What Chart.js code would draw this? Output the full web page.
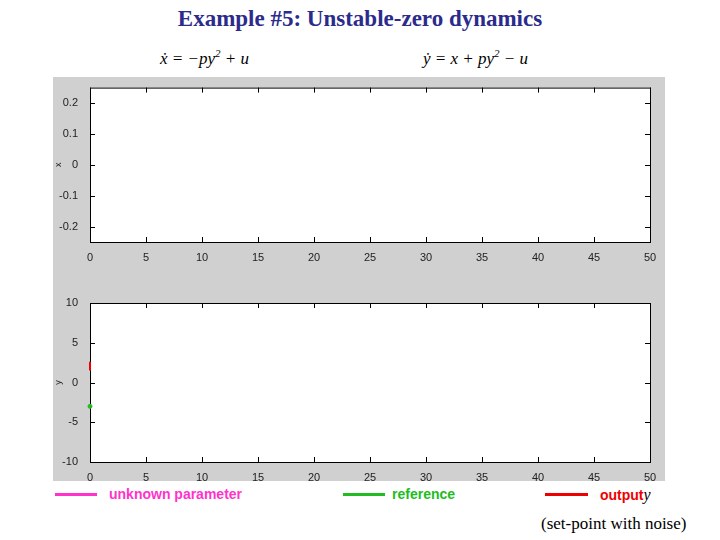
<!DOCTYPE html>
<html><head><meta charset="utf-8">
<script src="https://cdn.jsdelivr.net/npm/chart.js@4"></script>
<style>
body{margin:0;width:720px;height:540px;background:#fff;position:relative;overflow:hidden;font-family:"Liberation Sans",Arial,sans-serif}
.abs{position:absolute;white-space:nowrap}
#gray{left:53px;top:77px;width:612px;height:404px;background:#d0d0d0}
.eq{font-family:"Liberation Serif","DejaVu Serif",serif;font-style:italic;font-size:17px}
.ln{height:3px}
.lg{font-weight:bold;font-size:14px;top:486px}
</style></head><body>
<div class="abs" style="left:0;width:720px;top:6px;text-align:center;font-family:'Liberation Serif',serif;font-weight:bold;font-size:23px;color:#2b2b8c">Example #5: Unstable-zero dynamics</div>
<div class="abs eq" style="left:160px;top:47px">x&#775; = −py<sup style="font-size:11px">2</sup> + u</div>
<div class="abs eq" style="left:423px;top:47px">y&#775; = x + py<sup style="font-size:11px">2</sup> − u</div>
<div id="gray" class="abs"></div>
<div class="abs" style="left:53px;top:77px;width:612px;height:195px"><canvas id="c1"></canvas></div>
<div class="abs" style="left:53px;top:285px;width:612px;height:196px"><canvas id="c2"></canvas></div>
<div class="abs ln" style="left:55px;top:493px;width:42px;background:#ff33cc"></div>
<div class="abs lg" style="left:109px;color:#ff33cc">unknown parameter</div>
<div class="abs ln" style="left:343px;top:493px;width:42px;background:#22bb22"></div>
<div class="abs lg" style="left:392px;color:#22bb22">reference</div>
<div class="abs ln" style="left:545px;top:493px;width:43px;background:#ee0000"></div>
<div class="abs lg" style="left:600px;color:#ee0000">output<span style="color:#000;font-family:'Liberation Serif',serif;font-style:italic;font-weight:normal;font-size:16px">y</span></div>
<div class="abs" style="left:541px;top:514px;font-family:'Liberation Serif',serif;font-size:17px">(set-point with noise)</div>
<script>
const xTicks=[0,5,10,15,20,25,30,35,40,45,50];
const yTicksTop=[-0.2,-0.1,0,0.1,0.2];
const yTicksBot=[-10,-5,0,5,10];
const paramSeries=[];
const referenceSeries=[{x:0,y:-3}];
const outputSeries=[{x:0,y:1.5},{x:0,y:2.6}];

const frame={id:'frame',beforeDraw(c){const a=c.chartArea,g=c.ctx;g.save();g.fillStyle='#fff';g.fillRect(a.left,a.top,a.right-a.left,a.bottom-a.top);g.restore();},
beforeDatasetsDraw(c){const a=c.chartArea,g=c.ctx;g.save();g.strokeStyle='#000';g.lineWidth=1;g.strokeRect(a.left+.5,a.top+.5,a.right-a.left,a.bottom-a.top);
const L=5;g.beginPath();
c.scales.x.ticks.forEach(t=>{const p=Math.round(c.scales.x.getPixelForValue(t.value))+.5;g.moveTo(p,a.bottom);g.lineTo(p,a.bottom-L);g.moveTo(p,a.top);g.lineTo(p,a.top+L);});
c.scales.y.ticks.forEach(t=>{const p=Math.round(c.scales.y.getPixelForValue(t.value))+.5;g.moveTo(a.left,p);g.lineTo(a.left+L,p);g.moveTo(a.right,p);g.lineTo(a.right-L,p);});
g.stroke();g.restore();}};

function mk(id,ymin,ymax,yt,ylab,ds,padTop,xh){
new Chart(document.getElementById(id),{type:'scatter',data:{datasets:ds},
options:{responsive:true,maintainAspectRatio:false,animation:false,
layout:{padding:{top:padTop,right:15,left:0,bottom:0}},
plugins:{legend:{display:false},tooltip:{enabled:false}},
scales:{
x:{type:'linear',min:0,max:50,grid:{display:false},border:{display:false},
 afterBuildTicks(s){s.ticks=xTicks.map(v=>({value:v}));},afterFit(s){s.height=xh;},
 ticks:{color:'#222',font:{size:11,family:'Liberation Sans'},padding:1,maxRotation:0}},
y:{type:'linear',min:ymin,max:ymax,grid:{display:false},border:{display:false},
 afterBuildTicks(s){s.ticks=yt.map(v=>({value:v}));},afterFit(s){s.width=37;},
 title:{display:true,text:ylab,font:{size:9},color:'#222',padding:0},
 ticks:{color:'#222',font:{size:11,family:'Liberation Sans'},padding:4}}}},
plugins:[frame]});}

mk('c1',-0.25,0.25,yTicksTop,'x',[
 {data:paramSeries,showLine:true,borderColor:'#ff33cc',pointRadius:0}],7,30);
mk('c2',-10,10,yTicksBot,'y',[
 {data:paramSeries,showLine:true,borderColor:'#ff33cc',pointRadius:0},
 {data:referenceSeries,showLine:true,clip:false,borderColor:'#22bb22',backgroundColor:'#22bb22',pointRadius:2,borderWidth:1},
 {data:outputSeries,showLine:true,clip:false,borderColor:'#ee0000',pointRadius:0,borderWidth:2}],18,19);
</script></body></html>
